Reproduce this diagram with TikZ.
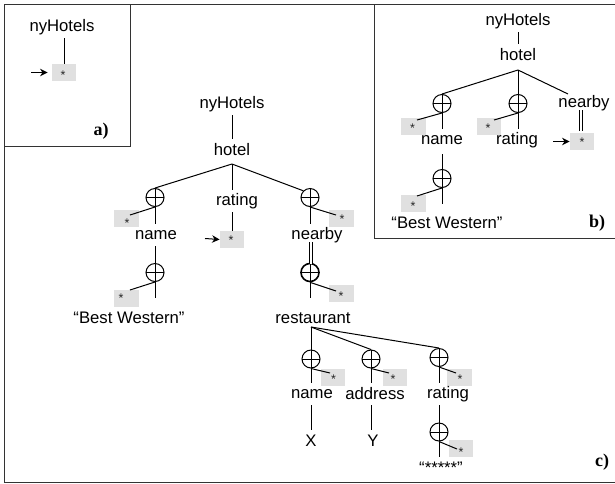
\documentclass[tikz,border=0pt]{standalone}
\usepackage{fontspec}
\setmainfont{Liberation Sans}
\newfontfamily\serifb{Liberation Serif}
\definecolor{boxgray}{HTML}{E0E0E0}
\usetikzlibrary{arrows.meta}
\tikzset{
  lbl/.style={font=\fontsize{16.7}{18}\selectfont,inner sep=0pt,minimum height=22pt},
  tag/.style={font=\serifb\bfseries\fontsize{18}{20}\selectfont,inner sep=0pt},
  gbox/.style={fill=boxgray,minimum width=24.5pt,minimum height=17pt,inner sep=0pt},
  st/.style={font=\fontsize{12.5}{13}\selectfont,inner sep=0pt,text=black!85},
  xc/.style={circle,draw,line width=1pt,minimum size=18pt,inner sep=0pt,
    path picture={\draw[line width=1pt] (path picture bounding box.west)--(path picture bounding box.east)
      (path picture bounding box.north)--(path picture bounding box.south);}},
  ln/.style={line width=1pt},
  arr/.style={line width=1pt,-{Stealth[length=7.5pt,width=7.5pt]}}
}
\begin{document}
\begin{tikzpicture}[x=1pt,y=-1pt]
\useasboundingbox (0,0) rectangle (615,483);
\fill[white] (0,0) rectangle (615,483);
% frames
\coordinate (fa) at (4.5,4); \coordinate (fb) at (615,482); \coordinate (fc) at (130.5,146.5); \coordinate (fd) at (374.5,238.5);
\draw[ln,black!80] (fb|-fa) -- (fa) -- (fa|-fb) -- (fb);
\draw[ln,black!80] (fc|-fa) -- (fc) -- (fa|-fc);
\draw[ln,black!80] (fd|-fa) -- (fd) -- (fb|-fd);
% ---- a
\node[lbl] (an) at (62,27) {nyHotels};
\node[gbox] (ab) at (64,72.5) {};
\node[st] (as) at (63,75) {*};
\coordinate (aa) at (31,72.5);
\draw[ln] (ab.north |- an.south) -- (ab.north);
\draw[arr,shorten >=4pt] (aa) -- (ab.west);
\node[tag] (at) at (101,131) {a)};
% ---- b
\node[lbl] (bn) at (518,21) {nyHotels};
\node[lbl] (bh) at (518,55) {hotel};
\node[xc] (bc1) at (442,103.5) {};
\node[xc] (bc2) at (518,103.5) {};
\node[lbl] (bnb) at (584,103) {nearby};
\node[gbox] (bb1) at (413.5,126.5) {};
\node[st] (bs1) at (412.5,128.5) {*};
\node[gbox] (bb2) at (489,126.5) {};
\node[st] (bs2) at (488,128.5) {*};
\node[gbox] (bb3) at (582,141.5) {};
\node[st] (bs3) at (582,142.5) {*};
\node[lbl] (bname) at (442,140) {name};
\node[lbl] (brat) at (517,140) {rating};
\node[xc] (bc3) at (442,178.5) {};
\node[gbox] (bb4) at (413.5,203.5) {};
\node[st] (bs4) at (413,206) {*};
\node[lbl] (bbw) at (447,223) {``Best Western\symbol{34}};
\node[tag] (bt) at (597,223) {b)};
\coordinate (bj) at (518,70);
\coordinate (bnear) at (568,94);
\coordinate (be1) at (417,120); \coordinate (be2) at (494,120); \coordinate (be4) at (417,196);
\coordinate (ba) at (553,141.5);
\coordinate (bdt) at (581,110); \coordinate (bdb) at (581,131);
\coordinate (bv) at (442,204);
\draw[ln] (bn.south -| bj) -- (bh.north -| bj);
\draw[ln] (bj) -- (bc2.north);
\draw[ln] (bj) -- (bc1.north);
\draw[ln] (bj) -- (bnear);
\draw[ln] (bc2.south) -- (brat.north -| bc2);
\draw[ln] (bc1.south) -- (bname.north -| bc1);
\draw[ln] (bc1.south) -- (be1);
\draw[ln] (bc2.south) -- (be2);
\draw[ln,shorten <=3pt] (bname.south -| bc1) -- (bc3.north);
\draw[ln] (bc3.south) -- (bv);
\draw[ln] (bc3.south) -- (be4);
\draw[ln,double,double distance=2pt] (bdt) -- (bdb);
\draw[arr] (ba) -- (bb3.west);
% ---- c
\node[lbl] (cn) at (232,104) {nyHotels};
\node[lbl] (ch) at (232,150) {hotel};
\coordinate (cj) at (232,164);
\node[xc] (cc1) at (155,197.5) {};
\node[lbl] (crat) at (237,201) {rating};
\node[xc] (cc2) at (310,197.5) {};
\node[gbox] (cb1) at (126.5,218.5) {};
\node[st] (cs1) at (127,223) {*};
\node[gbox] (cb2) at (341.5,218.5) {};
\node[st] (cs2) at (342,219.5) {*};
\node[gbox] (cb3) at (232,239.5) {};
\node[st] (cs3) at (231,240.5) {*};
\node[lbl] (cname) at (156,235) {name};
\node[lbl] (cnb) at (317,235) {nearby};
\node[xc] (cc3) at (155,272.5) {};
\node[xc,line width=1.6pt] (cc4) at (310,272.5) {};
\node[gbox] (cb4) at (126.5,298.5) {};
\node[st] (cs4) at (121,298.5) {*};
\node[gbox] (cb5) at (341.5,293.5) {};
\node[st] (cs5) at (341,296) {*};
\node[lbl] (cbw) at (129,318) {``Best Western\symbol{34}};
\node[lbl] (cr) at (313,318) {restaurant};
\coordinate (crj) at (311,327);
\node[xc] (cd1) at (311,359) {};
\node[xc] (cd2) at (371,359) {};
\node[xc] (cd3) at (439,357.5) {};
\node[gbox] (cf1) at (333,377.5) {};
\node[st] (ct1) at (333.5,379) {*};
\node[gbox] (cf2) at (395,377.5) {};
\node[st] (ct2) at (393,379) {*};
\node[gbox] (cf3) at (459.5,377.5) {};
\node[st] (ct3) at (460,379) {*};
\node[lbl] (cn1) at (312,394) {name};
\node[lbl] (cn2) at (375,394) {address};
\node[lbl] (cn3) at (448,394) {rating};
\node[lbl] (cx) at (311,441) {X};
\node[lbl] (cy) at (373,441) {Y};
\node[xc] (cd4) at (439,432) {};
\node[gbox] (cf4) at (461,448.5) {};
\node[st] (ct4) at (461,452) {*};
\node[font=\fontsize{16.7}{18}\selectfont,inner sep=0pt] (cq) at (441,468) {``*****\symbol{34}};
\node[tag] (ct) at (602,462) {c)};
\coordinate (ce1) at (130,215); \coordinate (ce2) at (336,215); \coordinate (ca) at (205,238.5);
\coordinate (ce3) at (130,290); \coordinate (ce4) at (336,291);
\coordinate (cg1) at (330,373); \coordinate (cg2) at (389,373); \coordinate (cg3) at (456,373); \coordinate (cg4) at (457,449);
\coordinate (cdt) at (311,242); \coordinate (cdb) at (311,264);
\coordinate (cv1) at (155,298); \coordinate (cv2) at (310,298); \coordinate (cv3) at (439,457);
\draw[ln] (cn.south) -- (ch.north);
\draw[ln] (cj) -- (cc1.north);
\draw[ln] (cj) -- (cc2.north west);
\draw[ln] (cj) -- (crat.north -| cj);
\draw[ln] (crat.south -| cj) -- (cb3.north -| cj);
\draw[arr] (ca) -- (cb3.west);
\draw[ln] (cc1.south) -- (cname.north -| cc1);
\draw[ln] (cc1.south) -- (ce1);
\draw[ln] (cc2.south) -- (cnb.north -| cc2);
\draw[ln] (cc2.south) -- (ce2);
\draw[ln] (cname.south -| cc1) -- (cc3.north);
\draw[ln] (cc3.south) -- (cv1);
\draw[ln] (cc3.south) -- (ce3);
\draw[ln,double,double distance=2.5pt] (cdt) -- (cdb);
\draw[ln] (cc4.south) -- (cv2);
\draw[ln] (cc4.south) -- (ce4);
\draw[ln] (crj) -- (cd1.north);
\draw[ln] (crj) -- (cd2.north);
\draw[ln] (crj) -- (cd3.north);
\draw[ln] (cd1.south) -- (cn1.north -| cd1);
\draw[ln] (cd2.south) -- (cn2.north -| cd2);
\draw[ln] (cd3.south) -- (cn3.north -| cd3);
\draw[ln] (cd1.south) -- (cg1);
\draw[ln] (cd2.south) -- (cg2);
\draw[ln] (cd3.south) -- (cg3);
\draw[ln] (cn1.south -| cd1) -- (cx.north -| cd1);
\draw[ln] (cn2.south -| cd2) -- (cy.north -| cd2);
\draw[ln] (cn3.south -| cd3) -- (cd4.north);
\draw[ln] (cd4.south) -- (cv3);
\draw[ln] (cd4.south) -- (cg4);
\end{tikzpicture}
\end{document}
